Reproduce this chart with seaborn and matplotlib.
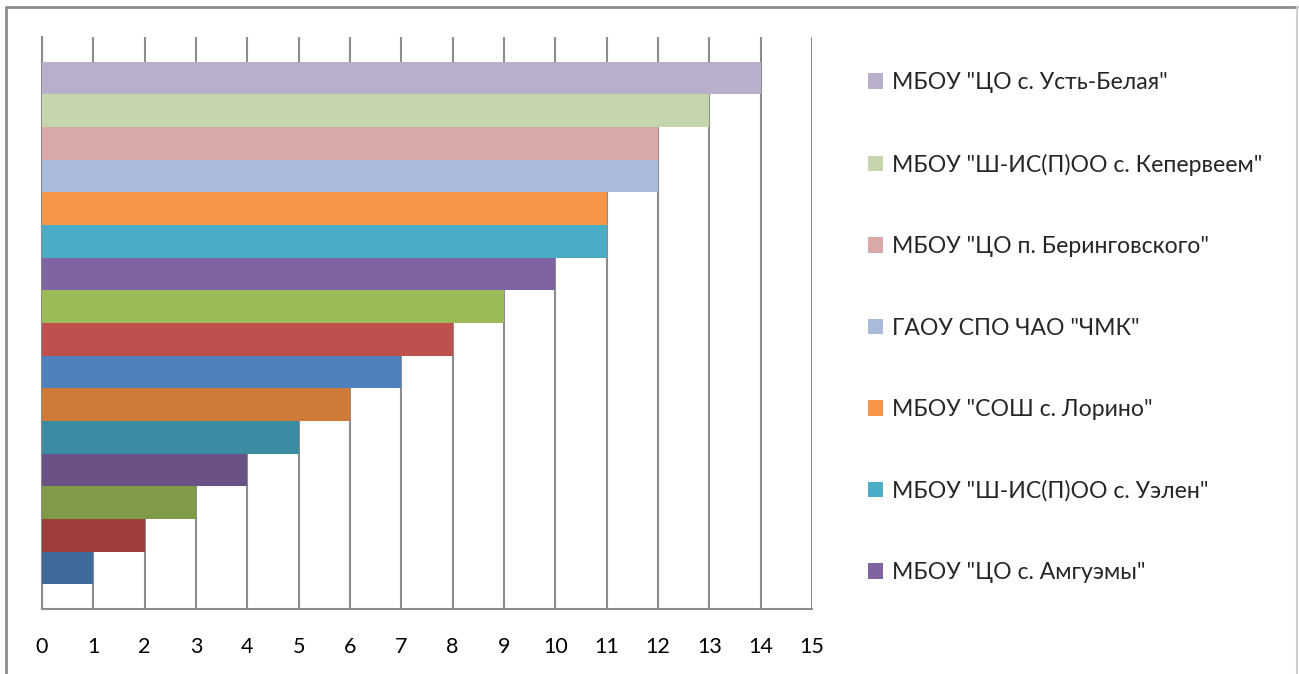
import matplotlib
matplotlib.use("Agg")
import matplotlib.pyplot as plt
from matplotlib.lines import Line2D
import seaborn as sns
import pandas as pd

# Series listed top to bottom as they appear in the chart
series_ids = [f"s{i}" for i in range(16, 0, -1)]
values = [14, 13, 12, 12, 11, 11, 10, 9, 8, 7, 6, 5, 4, 3, 2, 1]
colors = ["#BAAFCA", "#C6D6AC", "#D9A9A8", "#A9BADA", "#F79646", "#4BACC6",
          "#8064A2", "#9BBB59", "#C0504D", "#4F81BD", "#CE7A38", "#3A8CA2",
          "#6A5186", "#7F9B48", "#9E3F3D", "#3E6A9C"]
legend_labels = [
    'МБОУ "ЦО с. Усть-Белая"',
    'МБОУ "Ш-ИС(П)ОО с. Кепервеем"',
    'МБОУ "ЦО п. Беринговского"',
    'ГАОУ СПО ЧАО "ЧМК"',
    'МБОУ "СОШ с. Лорино"',
    'МБОУ "Ш-ИС(П)ОО с. Уэлен"',
    'МБОУ "ЦО с. Амгуэмы"',
]
x_ticks = list(range(0, 16))

sns.set_style("white")
plt.rcParams["font.family"] = ["Lato", "DejaVu Sans"]

W, H = 1299, 674
fig = plt.figure(figsize=(W / 100, H / 100), dpi=100)
ax = fig.add_axes([42 / W, (H - 609) / H, (812 - 42) / W, (609 - 37) / H])

df = pd.DataFrame({"series": series_ids, "value": values})
sns.barplot(data=df, x="value", y="series", hue="series", order=series_ids,
            hue_order=series_ids, palette=colors, width=1.0, orient="h",
            legend=False, saturation=1.0, linewidth=0, ax=ax, zorder=3)

grid_c = "#8C8C8C"
ax.set_xlim(0, 15)
ax.set_ylim(len(values) - 1 + 0.5 + 0.75, -0.5 - 0.75)
ax.set_xticks(x_ticks)
ax.set_yticks([])
ax.set_xlabel("")
ax.set_ylabel("")
ax.xaxis.grid(True, color=grid_c, linewidth=1.5, zorder=0)
ax.set_axisbelow(True)
ax.tick_params(axis="x", length=9, width=1.5, color=grid_c, pad=11.5,
               labelsize=15.5, labelcolor="black")
for side in ("top", "right"):
    ax.spines[side].set_visible(False)
for side in ("left", "bottom"):
    ax.spines[side].set_color(grid_c)
    ax.spines[side].set_linewidth(1.5)

# Legend shows the first seven series from the top
handles = [ax.patches[i] for i in range(len(legend_labels))]
fig.legend(handles, legend_labels, loc="upper left",
           bbox_to_anchor=(859 / W, 1 - 63 / H), frameon=False,
           fontsize=16.6, labelspacing=2.62, handlelength=0.65,
           handleheight=0.65, handletextpad=0.4, borderaxespad=0)

# Outer chart border
fig.add_artist(Line2D([6 / W, 1297 / W], [1 - 7 / H, 1 - 7 / H],
                      transform=fig.transFigure, color="#8C8C8C", linewidth=2))
fig.add_artist(Line2D([6 / W, 6 / W], [1 - 7 / H, 0],
                      transform=fig.transFigure, color="#8C8C8C", linewidth=2))
fig.add_artist(Line2D([1297 / W, 1297 / W], [1 - 7 / H, 0],
                      transform=fig.transFigure, color="#D0D0D0", linewidth=1.5))

fig.savefig("out.png", dpi=100)
